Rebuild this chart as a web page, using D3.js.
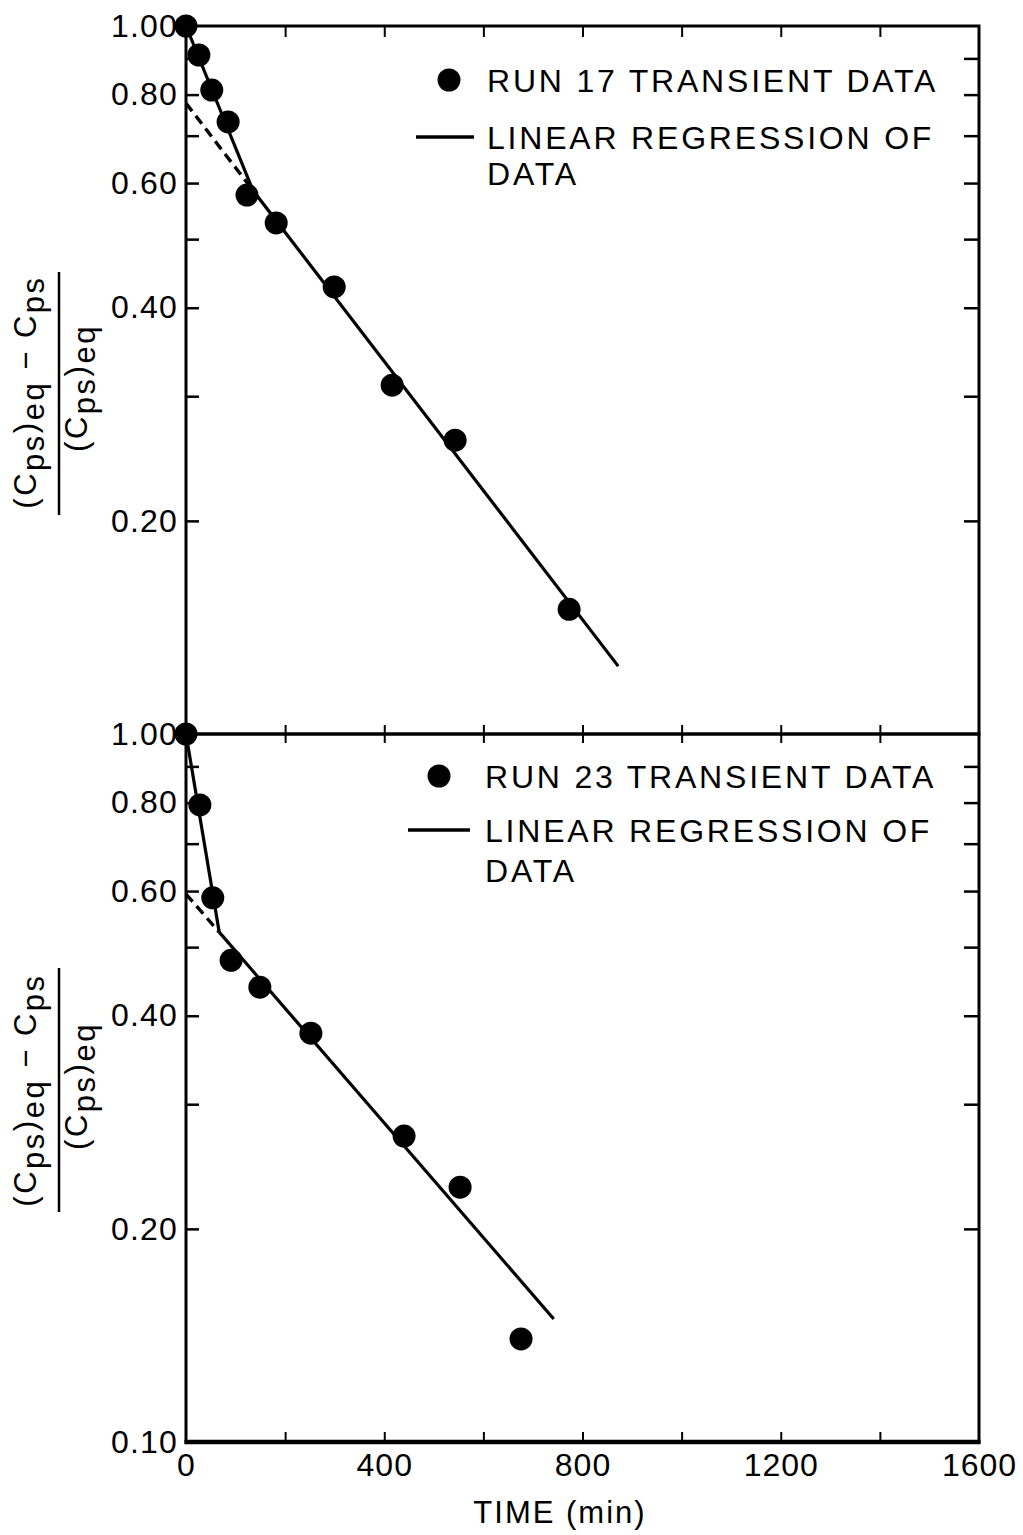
<!DOCTYPE html>
<html>
<head>
<meta charset="utf-8">
<script src="https://cdn.jsdelivr.net/npm/d3@7"></script>
<style>
  html, body { margin: 0; padding: 0; background: #fff; }
  svg { display: block; font-family: "Liberation Sans", Arial, Helvetica, sans-serif; }
</style>
</head>
<body>
<svg id="chart" width="1023" height="1535"></svg>
<script>
// ---------- data ----------
const timeTicks = [0, 400, 800, 1200, 1600];
const timeMinorTicks = [0, 200, 400, 600, 800, 1000, 1200, 1400, 1600];
const yTickValues = [0.9, 0.8, 0.7, 0.6, 0.5, 0.4, 0.3, 0.2];
const yLabelsTop = [1.0, 0.8, 0.6, 0.4, 0.2];
const yLabelsBottom = [1.0, 0.8, 0.6, 0.4, 0.2, 0.1];

// Run 17
const run17Time  = [0, 26, 52, 85, 123, 182, 299, 416, 543, 773];
const run17Value = [1.00, 0.910, 0.812, 0.732, 0.577, 0.527, 0.428, 0.311, 0.260, 0.150];
const run17FitSteep = [[0, 1.00], [135, 0.586]];
const run17FitMain  = [[135, 0.586], [872, 0.1247]];
const run17FitDash  = [[0, 0.778], [135, 0.586]];

// Run 23
const run23Time  = [0, 28, 54, 91, 149, 252, 440, 553, 676];
const run23Value = [1.00, 0.794, 0.587, 0.479, 0.439, 0.378, 0.2705, 0.229, 0.1398];
const run23FitSteep = [[0, 1.00], [67, 0.525]];
const run23FitMain  = [[67, 0.525], [742, 0.1492]];
const run23FitDash  = [[0, 0.594], [67, 0.525]];

const legend17 = ["RUN 17 TRANSIENT DATA", "LINEAR REGRESSION OF", "DATA"];
const legend23 = ["RUN 23 TRANSIENT DATA", "LINEAR REGRESSION OF", "DATA"];
const xTitle = "TIME (min)";

// ---------- layout ----------
const svg = d3.select("#chart");
const L = 186, R = 979;
const panels = [
  { top: 26,  bottom: 734,  time: run17Time, value: run17Value,
    steep: run17FitSteep, main: run17FitMain, dash: run17FitDash,
    labels: yLabelsTop, legend: legend17,
    leg: { dotX: 449, dotY: 80, textX: 487, lineX1: 416, lineX2: 474, lineY: 137, b1: 92, b2: 149, b3: 185 },
    ylab: { cy: 392, barY1: 272, barY2: 515 } },
  { top: 734, bottom: 1442, time: run23Time, value: run23Value,
    steep: run23FitSteep, main: run23FitMain, dash: run23FitDash,
    labels: yLabelsBottom, legend: legend23,
    leg: { dotX: 439, dotY: 776, textX: 485, lineX1: 408, lineX2: 470, lineY: 830, b1: 788, b2: 842, b3: 882 },
    ylab: { cy: 1090, barY1: 968, barY2: 1212 } }
];

const x = d3.scaleLinear().domain([0, 1600]).range([L, R]);
const fmt = d3.format(".2f");

panels.forEach((p, i) => {
  const y = d3.scaleLog().domain([0.1, 1]).range([p.bottom, p.top]);
  const g = svg.append("g");

  // frame
  g.append("rect").attr("x", L).attr("y", p.top)
    .attr("width", R - L).attr("height", p.bottom - p.top)
    .attr("fill", "none").attr("stroke", "#000").attr("stroke-width", 3);

  // left ticks (inward)
  const leftTicks = g.append("g").attr("transform", `translate(${L},0)`)
    .call(d3.axisLeft(y).tickValues(yTickValues).tickSize(-13).tickFormat(""));
  leftTicks.select(".domain").remove();
  leftTicks.selectAll("line").attr("stroke-width", 2.5);

  // left labels
  const leftLab = g.append("g").attr("transform", `translate(${L},0)`)
    .call(d3.axisLeft(y).tickValues(p.labels).tickSize(0).tickPadding(8).tickFormat(fmt));
  leftLab.select(".domain").remove();
  leftLab.selectAll("text").attr("font-size", 32).attr("letter-spacing", "1.2px")
    .attr("fill", "#000").attr("font-family", null);

  // right ticks (inward)
  const rightTicks = g.append("g").attr("transform", `translate(${R},0)`)
    .call(d3.axisRight(y).tickValues(yTickValues).tickSize(-15).tickFormat(""));
  rightTicks.select(".domain").remove();
  rightTicks.selectAll("line").attr("stroke-width", 2.5);

  // top edge ticks
  if (i === 0) {
    const tt = g.append("g").attr("transform", `translate(0,${p.top})`)
      .call(d3.axisTop(x).tickValues(timeMinorTicks.slice(1, -1)).tickSize(-11).tickFormat(""));
    tt.select(".domain").remove();
    tt.selectAll("line").attr("stroke-width", 2);
  } else {
    // shared boundary: ticks crossing the line
    const tb = g.append("g").attr("transform", `translate(0,${p.top})`)
      .call(d3.axisBottom(x).tickValues(timeMinorTicks.slice(1, -1)).tickSize(9).tickFormat(""));
    tb.select(".domain").remove();
    tb.selectAll("line").attr("stroke-width", 2);
    const tu = g.append("g").attr("transform", `translate(0,${p.top})`)
      .call(d3.axisTop(x).tickValues(timeMinorTicks.slice(1, -1)).tickSize(9).tickFormat(""));
    tu.select(".domain").remove();
    tu.selectAll("line").attr("stroke-width", 2);

    // bottom axis
    svg.append("line").attr("x1", L - 1.5).attr("x2", R + 1.5)
      .attr("y1", p.bottom).attr("y2", p.bottom)
      .attr("stroke", "#000").attr("stroke-width", 4.5);
    const bt = g.append("g").attr("transform", `translate(0,${p.bottom})`)
      .call(d3.axisBottom(x).tickValues(timeMinorTicks.slice(1, -1)).tickSize(-10).tickFormat(""));
    bt.select(".domain").remove();
    bt.selectAll("line").attr("stroke-width", 2);
    const bl = g.append("g").attr("transform", `translate(0,${p.bottom})`)
      .call(d3.axisBottom(x).tickValues(timeTicks).tickSize(0).tickPadding(11).tickFormat(d3.format("d")));
    bl.select(".domain").remove();
    bl.selectAll("text").attr("font-size", 32).attr("letter-spacing", "1px")
      .attr("fill", "#000").attr("font-family", null);
  }

  // regression lines
  const line = d3.line().x(d => x(d[0])).y(d => y(d[1]));
  g.append("path").datum(p.steep).attr("d", line)
    .attr("fill", "none").attr("stroke", "#000").attr("stroke-width", 3.2);
  g.append("path").datum(p.main).attr("d", line)
    .attr("fill", "none").attr("stroke", "#000").attr("stroke-width", 3.2);
  g.append("path").datum(p.dash).attr("d", line)
    .attr("fill", "none").attr("stroke", "#000").attr("stroke-width", 3.4)
    .attr("stroke-dasharray", "10,6");

  // data points
  g.selectAll("circle.pt").data(p.time.map((t, k) => [t, p.value[k]]))
    .join("circle").attr("class", "pt")
    .attr("cx", d => x(d[0])).attr("cy", d => y(d[1])).attr("r", 11.5)
    .attr("fill", "#000");

  // legend
  const lg = p.leg;
  g.append("circle").attr("cx", lg.dotX).attr("cy", lg.dotY).attr("r", 11.5).attr("fill", "#000");
  g.append("line").attr("x1", lg.lineX1).attr("x2", lg.lineX2)
    .attr("y1", lg.lineY).attr("y2", lg.lineY)
    .attr("stroke", "#000").attr("stroke-width", 3.5);
  [lg.b1, lg.b2, lg.b3].forEach((b, k) => {
    g.append("text").attr("x", lg.textX).attr("y", b)
      .attr("font-size", 32).attr("letter-spacing", "2.8px")
      .text(p.legend[k]);
  });

  // y-axis label (fraction)
  const yl = p.ylab;
  const num = g.append("text").attr("transform", `translate(36,${yl.cy}) rotate(-90)`)
    .attr("text-anchor", "middle").attr("font-size", 31).attr("letter-spacing", "2.5px");
  num.append("tspan").text("(C");
  num.append("tspan").attr("dy", 8).text("ps");
  num.append("tspan").attr("dy", -8).text(")");
  num.append("tspan").attr("dy", 8).text("eq");
  num.append("tspan").attr("dy", -8).text(" \u2212 C");
  num.append("tspan").attr("dy", 8).text("ps");

  g.append("line").attr("x1", 59).attr("x2", 59).attr("y1", yl.barY1).attr("y2", yl.barY2)
    .attr("stroke", "#000").attr("stroke-width", 2.5);

  const den = g.append("text").attr("transform", `translate(87,${yl.cy - 4}) rotate(-90)`)
    .attr("text-anchor", "middle").attr("font-size", 31).attr("letter-spacing", "2.5px");
  den.append("tspan").text("(C");
  den.append("tspan").attr("dy", 8).text("ps");
  den.append("tspan").attr("dy", -8).text(")");
  den.append("tspan").attr("dy", 8).text("eq");
});

// x-axis title
svg.append("text").attr("x", 560).attr("y", 1523).attr("text-anchor", "middle")
  .attr("font-size", 31).attr("letter-spacing", "2px").text(xTitle);
</script>
</body>
</html>
